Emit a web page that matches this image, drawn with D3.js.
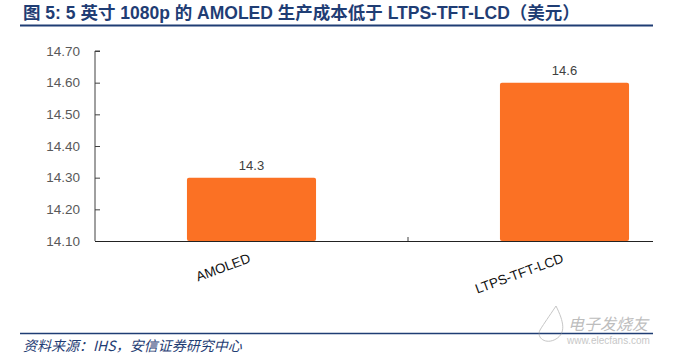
<!DOCTYPE html>
<html><head><meta charset="utf-8">
<script src="https://cdn.jsdelivr.net/npm/d3@7"></script>
<style>
html,body{margin:0;padding:0;background:#fff;}
svg{display:block;}
</style></head>
<body>
<svg id="c" width="677" height="358"></svg>
<script>
const categories = ["AMOLED", "LTPS-TFT-LCD"];
const values = [14.3, 14.6];
const yTicks = [14.10, 14.20, 14.30, 14.40, 14.50, 14.60, 14.70];
const titleText = "图 5: 5 英寸 1080p 的 AMOLED 生产成本低于 LTPS-TFT-LCD（美元）";
const sourceText = "资料来源：IHS，安信证券研究中心";

const svg = d3.select("#c");
const W = 677, H = 358;
const m = {left: 95, top: 51, bottom: 241};

// title
svg.append("text").attr("x", 23).attr("y", 19)
  .attr("font-family", "'Liberation Sans','Noto Sans CJK SC',sans-serif")
  .attr("font-weight", "bold").attr("font-size", 17.5)
  .attr("fill", "#1f3d74").text(titleText);
svg.append("line").attr("x1", 20).attr("x2", 653).attr("y1", 25.5).attr("y2", 25.5)
  .attr("stroke", "#1f3d74").attr("stroke-width", 2);

const y = d3.scaleLinear().domain([14.10, 14.70]).range([m.bottom, m.top]);
const x = d3.scaleBand().domain(categories).range([95, 721]).paddingInner(0.5876).paddingOuter(0.2938);

// y axis
const ya = svg.append("g").attr("transform", `translate(${m.left},0)`)
  .call(d3.axisRight(y).tickValues(yTicks).tickSize(5).tickFormat(d3.format(".2f")));
ya.select(".domain").attr("stroke", "#404040").attr("d", `M5,${y(14.70)}H0V${y(14.10)}`);
ya.selectAll(".tick line").attr("stroke", "#404040");
ya.selectAll(".tick text").attr("x", -15).attr("text-anchor", "end")
  .attr("font-family", "'Liberation Sans',Arial,sans-serif").attr("font-size", 13.5)
  .attr("fill", "#595959");

// bars
svg.selectAll("rect.bar").data(values).join("rect").attr("class", "bar")
  .attr("x", (d, i) => x(categories[i]))
  .attr("width", x.bandwidth())
  .attr("y", d => y(d))
  .attr("height", d => y(14.10) - y(d))
  .attr("rx", 2)
  .attr("fill", "#fb7124");

// value labels
svg.selectAll("text.val").data(values).join("text").attr("class", "val")
  .attr("x", (d, i) => x(categories[i]) + x.bandwidth() / 2)
  .attr("y", d => y(d) - 8)
  .attr("text-anchor", "middle")
  .attr("font-family", "'Liberation Sans',Arial,sans-serif").attr("font-size", 13)
  .attr("fill", "#404040").text(d => d3.format(".1f")(d));

// x axis
const xa = svg.append("g").attr("transform", `translate(0,${m.bottom})`)
  .call(d3.axisBottom(x).tickSize(0));
xa.select(".domain").attr("stroke", "#222").attr("d", "M95,0.5H653");
xa.selectAll(".tick text")
  .attr("text-anchor", "end")
  .attr("font-family", "'Liberation Sans',Arial,sans-serif").attr("font-size", 13.5)
  .attr("fill", "#111")
  .attr("transform", "translate(0,21) rotate(-20)")
  .attr("dy", 0).attr("y", 0);
// category separator tick
xa.append("line").attr("x1", 408).attr("x2", 408).attr("y1", 0).attr("y2", -4).attr("stroke", "#404040");

// footer
svg.append("line").attr("x1", 20).attr("x2", 653).attr("y1", 333.5).attr("y2", 333.5)
  .attr("stroke", "#1f3d74").attr("stroke-width", 1.5);
svg.append("text").attr("x", 23).attr("y", 351)
  .attr("font-family", "'Noto Sans CJK SC',sans-serif").attr("font-style", "italic")
  .attr("font-size", 14).attr("fill", "#1f3d74").text(sourceText);

// watermark
const wm = svg.append("g").attr("opacity", 0.55);
wm.append("path").attr("d", "M556,306 C548,318 545,322 540,330 C536,338 546,345 556,339 C566,333 564,322 556,306")
  .attr("fill", "none").attr("stroke", "#999").attr("stroke-width", 1);
wm.append("text").attr("x", 568).attr("y", 330).attr("font-family", "'Noto Sans CJK SC',sans-serif")
  .attr("font-style", "italic").attr("font-size", 16).attr("fill", "#888").text("电子发烧友");
wm.append("text").attr("x", 567).attr("y", 344).attr("font-family", "'Liberation Sans',sans-serif")
  .attr("font-size", 10).attr("fill", "#999").text("www.elecfans.com");
</script>
</body></html>
